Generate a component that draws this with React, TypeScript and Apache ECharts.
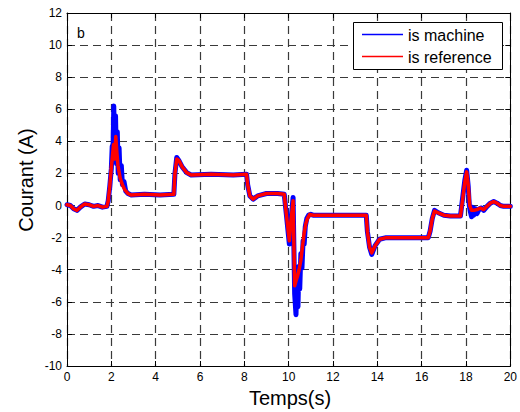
import React, { useEffect, useRef } from "react";
import * as echarts from "echarts";

// Time axis ticks / labels
const xTicks = [0, 2, 4, 6, 8, 10, 12, 14, 16, 18, 20];
const yTicks = [-10, -8, -6, -4, -2, 0, 2, 4, 6, 8, 10, 12];

// is machine (blue)
const machineTime = [
  0, 0.15, 0.3, 0.45, 0.6, 0.8, 1.0, 1.2, 1.4, 1.6, 1.8, 1.86,
  1.93, 2.0, 2.04, 2.07, 2.11, 2.15, 2.19, 2.23, 2.27, 2.31, 2.35, 2.4, 2.45, 2.5, 2.57, 2.65, 2.75, 2.9,
  3.5, 4.2, 4.82, 4.87, 4.95, 5.05, 5.2, 5.4, 5.6, 6.5, 7.5, 8.1, 8.15, 8.25, 8.4, 8.6, 9.0, 9.5, 9.8,
  9.9, 10.03, 10.1, 10.2, 10.27, 10.33, 10.38, 10.42, 10.46, 10.5, 10.55, 10.6, 10.65, 10.7, 10.75, 10.82, 10.9, 11.0, 11.1, 11.5,
  12.5, 13.5, 13.55, 13.65, 13.75, 13.9, 14.1, 14.4, 15.2, 16.3, 16.38, 16.48, 16.58, 16.75, 17.0, 17.3,
  17.75, 17.85, 17.95, 18.03, 18.1, 18.15, 18.2, 18.25, 18.3, 18.35, 18.42, 18.5, 18.6, 18.7, 18.8, 18.95, 19.1, 19.25, 19.4, 19.55, 19.7, 20,
];
const machineCurrent = [
  0.05, 0.0, -0.2, -0.3, -0.1, 0.1, 0.05, -0.05, 0.0, -0.1, -0.05, 0.3,
  1.2, 2.3, 3.7, 2.9, 6.2, 3.0, 5.6, 2.6, 4.6, 2.0, 3.6, 1.6, 2.5, 1.3, 1.5, 0.9, 0.75, 0.65,
  0.7, 0.65, 0.7, 2.0, 3.0, 2.8, 2.4, 2.05, 1.9, 1.95, 1.9, 1.95, 1.3, 0.6, 0.4, 0.6, 0.75, 0.75, 0.7,
  -0.6, -2.4, -1.0, 0.5, -5.5, -6.8, -4.5, -6.3, -3.8, -5.2, -3.0, -3.9, -2.2, -2.4, -1.3, -0.8, -0.6, -0.55, -0.6, -0.6,
  -0.6, -0.6, -1.6, -2.6, -3.05, -2.5, -2.1, -2.0, -2.0, -2.0, -1.6, -0.8, -0.3, -0.45, -0.6, -0.65,
  -0.65, 0.5, 1.6, 2.2, 1.2, 0.0, -0.4, -0.7, -0.1, -0.6, -0.2, -0.5, -0.2, -0.15, -0.3, -0.05, 0.15, 0.25, 0.15, 0.0, -0.05, -0.05,
];

// is reference (red)
const referenceTime = [
  0, 0.15, 0.3, 0.45, 0.6, 0.8, 1.0, 1.2, 1.4, 1.6, 1.8, 1.86,
  1.93, 2.0, 2.05, 2.1, 2.15, 2.2, 2.25, 2.3, 2.4, 2.5, 2.6, 2.75, 2.9,
  3.5, 4.2, 4.82, 4.87, 4.95, 5.05, 5.2, 5.4, 5.6, 6.5, 7.5, 8.1, 8.15, 8.25, 8.4, 8.6, 9.0, 9.5, 9.8,
  9.9, 10.03, 10.1, 10.2, 10.27, 10.33, 10.4, 10.47, 10.55, 10.62, 10.7, 10.78, 10.85, 10.95, 11.1, 11.5,
  12.5, 13.5, 13.55, 13.65, 13.75, 13.9, 14.1, 14.4, 15.2, 16.3, 16.38, 16.48, 16.58, 16.75, 17.0, 17.3,
  17.75, 17.85, 17.95, 18.03, 18.1, 18.17, 18.25, 18.35, 18.5, 18.65, 18.8, 18.95, 19.1, 19.25, 19.4, 19.55, 19.7, 20,
];
const referenceCurrent = [
  0.05, 0.0, -0.2, -0.3, -0.1, 0.1, 0.05, -0.05, 0.0, -0.1, -0.05, 0.3,
  1.2, 2.4, 3.1, 3.8, 2.9, 4.3, 3.3, 2.5, 1.7, 1.3, 1.0, 0.75, 0.65,
  0.7, 0.65, 0.7, 2.0, 2.9, 2.8, 2.4, 2.05, 1.9, 1.95, 1.9, 1.95, 1.3, 0.6, 0.4, 0.6, 0.75, 0.75, 0.7,
  -0.6, -2.2, -1.0, 0.3, -5.0, -4.7, -4.4, -4.0, -3.4, -2.6, -1.7, -1.1, -0.8, -0.55, -0.6, -0.6,
  -0.6, -0.6, -1.6, -2.6, -2.95, -2.5, -2.1, -2.0, -2.0, -2.0, -1.6, -0.8, -0.35, -0.45, -0.6, -0.65,
  -0.65, 0.4, 1.5, 2.1, 1.3, 0.0, -0.3, -0.3, -0.25, -0.15, -0.25, -0.05, 0.15, 0.25, 0.15, 0.0, -0.05, -0.05,
];

const seriesNames = ["is machine", "is reference"];
const FONT = "'Liberation Sans', Arial, Helvetica, sans-serif";

export default function App() {
  const ref = useRef<HTMLDivElement>(null);
  useEffect(() => {
    if (!ref.current) return;
    const chart = echarts.init(ref.current, undefined, { renderer: "svg" });
    const machineData = machineTime.map((t, i) => [t, machineCurrent[i]]);
    const referenceData = referenceTime.map((t, i) => [t, referenceCurrent[i]]);
    const xMin = xTicks[0];
    const xMax = xTicks[xTicks.length - 1];
    const yMin = yTicks[0];
    const yMax = yTicks[yTicks.length - 1];
    const gridLine = { show: true, lineStyle: { color: "#3a3a3a", width: 1.2, type: [8, 5] as any } };
    const tick = { show: true, inside: true, length: 5, lineStyle: { color: "#000", width: 1 } };
    const axLine = { show: true, onZero: false, lineStyle: { color: "#000", width: 1 } };
    chart.setOption({
      animation: false,
      backgroundColor: "#fff",
      grid: { left: 67, right: 7, top: 13, bottom: 46, containLabel: false },
      xAxis: [
        {
          type: "value", min: xMin, max: xMax, interval: 2, position: "bottom",
          axisLine: axLine, axisTick: tick, splitLine: gridLine,
          axisLabel: { color: "#000", fontSize: 12, fontFamily: FONT, margin: 5 },
        },
        {
          type: "value", min: xMin, max: xMax, interval: 2, position: "top",
          axisLine: axLine, axisTick: tick, splitLine: { show: false }, axisLabel: { show: false },
        },
      ],
      yAxis: [
        {
          type: "value", min: yMin, max: yMax, interval: 2, position: "left",
          axisLine: axLine, axisTick: tick, splitLine: gridLine,
          axisLabel: { color: "#000", fontSize: 12, fontFamily: FONT, margin: 5 },
        },
        {
          type: "value", min: yMin, max: yMax, interval: 2, position: "right",
          axisLine: axLine, axisTick: tick, splitLine: { show: false }, axisLabel: { show: false },
        },
      ],
      series: [
        {
          name: seriesNames[0], type: "line", data: machineData, symbol: "none",
          lineStyle: { color: "#0000ff", width: 5, join: "round", cap: "round" }, z: 2,
        },
        {
          name: seriesNames[1], type: "line", data: referenceData, symbol: "none",
          lineStyle: { color: "#ff0000", width: 3.5, join: "round", cap: "round" }, z: 3,
        },
      ],
      graphic: [
        {
          type: "text", z: 100, x: 26, y: 180, rotation: Math.PI / 2,
          style: { text: "Courant (A)", fontSize: 20, fontFamily: FONT, fill: "#000", align: "center", verticalAlign: "middle" },
        },
        {
          type: "text", z: 100, x: 77, y: 33,
          style: { text: "b", fontSize: 14, fontFamily: FONT, fill: "#000", verticalAlign: "middle" },
        },
        {
          type: "text", z: 100, x: 290, y: 398,
          style: { text: "Temps(s)", fontSize: 20, fontFamily: FONT, fill: "#000", align: "center", verticalAlign: "middle" },
        },
        {
          type: "rect", z: 100,
          shape: { x: 353.5, y: 22.5, width: 149, height: 47 },
          style: { fill: "#fff", stroke: "#000", lineWidth: 1 },
        },
        {
          type: "line", z: 101,
          shape: { x1: 362, y1: 34.5, x2: 403, y2: 34.5 },
          style: { stroke: "#0000ff", lineWidth: 1.5 },
        },
        {
          type: "text", z: 101, x: 408, y: 35,
          style: { text: seriesNames[0], fontSize: 16, fontFamily: FONT, fill: "#000", verticalAlign: "middle" },
        },
        {
          type: "line", z: 101,
          shape: { x1: 362, y1: 56.5, x2: 403, y2: 56.5 },
          style: { stroke: "#ff0000", lineWidth: 1.5 },
        },
        {
          type: "text", z: 101, x: 408, y: 57,
          style: { text: seriesNames[1], fontSize: 16, fontFamily: FONT, fill: "#000", verticalAlign: "middle" },
        },
      ],
    });
    return () => chart.dispose();
  }, []);
  return (
    <div
      ref={ref}
      style={{ position: "fixed", left: 0, top: 0, width: 520, height: 412, background: "#fff" }}
    />
  );
}
